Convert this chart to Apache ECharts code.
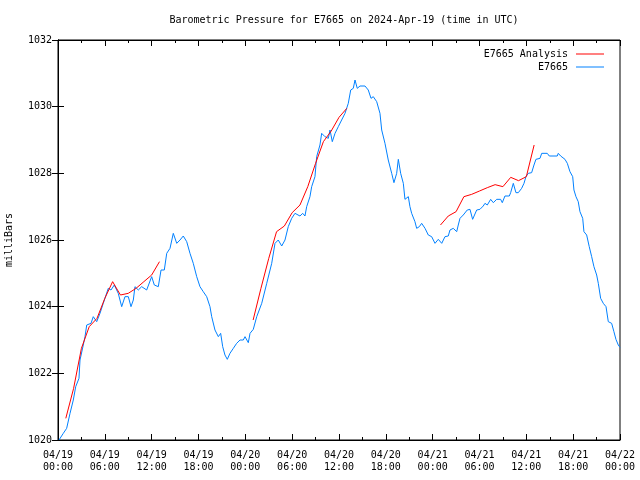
<!DOCTYPE html>
<html>
<head>
<meta charset="utf-8">
<script src="https://cdn.jsdelivr.net/npm/echarts@6/dist/echarts.min.js"></script>
<style>
html,body{margin:0;padding:0;background:#fff;}
#chart{width:640px;height:480px;}
</style>
</head>
<body>
<div id="chart"></div>
<script>
// hours since 2024-04-19 00:00 UTC
var xTickHours = [0, 6, 12, 18, 24, 30, 36, 42, 48, 54, 60, 66, 72];
var yTicks = [1020, 1022, 1024, 1026, 1028, 1030, 1032];

// Observed series E7665: [hour, pressure]
var obsE7665 = [
[0.13,1020.0],[0.68,1020.2],[1.11,1020.35],[1.54,1020.8],[1.96,1021.2],[2.27,1021.6],[2.69,1021.85],[2.82,1022.4],
[3.24,1022.85],[3.46,1023.1],[3.68,1023.45],[4.23,1023.5],[4.52,1023.7],[4.96,1023.55],[5.38,1023.8],[5.80,1024.1],
[6.44,1024.55],[6.79,1024.5],[7.21,1024.65],[7.72,1024.4],[8.16,1024.0],[8.58,1024.3],[9.01,1024.3],[9.35,1024.0],
[9.65,1024.2],[9.86,1024.6],[10.29,1024.5],[10.72,1024.6],[11.36,1024.5],[12.0,1024.9],[12.34,1024.65],[12.85,1024.6],
[13.2,1025.1],[13.62,1025.1],[13.93,1025.6],[14.35,1025.75],[14.77,1026.2],[15.21,1025.9],[15.63,1026.0],[16.05,1026.12],
[16.49,1025.95],[16.91,1025.6],[17.33,1025.3],[17.77,1024.9],[18.19,1024.6],[18.61,1024.45],[19.05,1024.3],[19.47,1024.0],
[19.69,1023.7],[20.11,1023.3],[20.54,1023.1],[20.84,1023.2],[21.10,1022.8],[21.39,1022.55],[21.69,1022.42],[22.03,1022.6],
[22.46,1022.75],[22.89,1022.9],[23.32,1023.0],[23.74,1023.0],[23.96,1023.1],[24.38,1022.92],[24.60,1023.2],[25.02,1023.32],
[25.46,1023.7],[26.10,1024.1],[26.74,1024.7],[27.38,1025.3],[27.80,1025.9],[28.22,1026.0],[28.66,1025.82],[29.08,1026.0],
[29.50,1026.4],[29.94,1026.65],[30.36,1026.8],[31.00,1026.72],[31.35,1026.8],[31.64,1026.72],[31.86,1027.0],[32.28,1027.3],
[32.50,1027.6],[32.92,1027.9],[33.14,1028.5],[33.56,1028.85],[33.78,1029.2],[34.20,1029.1],[34.63,1029.05],[34.85,1029.3],
[35.14,1028.95],[35.49,1029.2],[35.91,1029.4],[36.34,1029.6],[36.77,1029.8],[37.19,1030.1],[37.50,1030.5],[37.83,1030.55],
[38.05,1030.8],[38.34,1030.55],[38.69,1030.62],[39.33,1030.62],[39.75,1030.5],[40.10,1030.25],[40.39,1030.3],[40.83,1030.15],
[41.25,1029.8],[41.47,1029.3],[41.89,1028.9],[42.31,1028.4],[42.75,1028.0],[43.04,1027.72],[43.39,1028.0],[43.60,1028.42],
[43.90,1028.0],[44.24,1027.7],[44.45,1027.22],[44.88,1027.3],[45.09,1027.0],[45.31,1026.8],[45.73,1026.55],[45.95,1026.35],
[46.29,1026.4],[46.59,1026.5],[47.02,1026.35],[47.44,1026.15],[47.87,1026.1],[48.30,1025.9],[48.72,1026.02],[49.16,1025.9],
[49.58,1026.1],[50.00,1026.12],[50.22,1026.3],[50.64,1026.35],[51.08,1026.25],[51.28,1026.45],[51.50,1026.65],[51.92,1026.75],
[52.43,1026.9],[52.78,1026.92],[53.12,1026.62],[53.64,1026.9],[54.06,1026.92],[54.48,1027.02],[54.70,1027.1],[55.0,1027.05],
[55.43,1027.22],[55.77,1027.12],[56.20,1027.22],[56.71,1027.22],[56.92,1027.12],[57.26,1027.32],[57.82,1027.32],[57.99,1027.42],
[58.33,1027.7],[58.67,1027.42],[58.97,1027.42],[59.40,1027.55],[59.70,1027.7],[59.95,1027.9],[60.25,1028.0],[60.68,1028.02],
[60.98,1028.25],[61.23,1028.42],[61.75,1028.45],[61.97,1028.6],[62.68,1028.6],[62.94,1028.52],[63.96,1028.52],[64.09,1028.6],
[64.40,1028.52],[64.95,1028.42],[65.25,1028.3],[65.59,1028.05],[65.94,1027.9],[66.10,1027.5],[66.36,1027.3],[66.65,1027.15],
[66.87,1026.85],[67.22,1026.65],[67.38,1026.25],[67.73,1026.15],[68.06,1025.8],[68.37,1025.5],[68.66,1025.2],[69.01,1024.95],
[69.22,1024.7],[69.52,1024.25],[69.86,1024.1],[70.21,1024.0],[70.50,1023.55],[70.93,1023.5],[71.22,1023.25],[71.48,1023.02],
[71.78,1022.85],[72.0,1022.78]
];

// Analysis runs (hourly), three 12-hour segments
var anaStart1 = 1,  anaValues1 = [1020.65,1021.55,1022.75,1023.4,1023.65,1024.25,1024.75,1024.35,1024.4,1024.55,1024.75,1024.95,1025.35];
var anaStart2 = 25, anaValues2 = [1023.6,1024.55,1025.45,1026.25,1026.42,1026.82,1027.05,1027.6,1028.3,1028.95,1029.27,1029.68,1029.95];
var anaStart3 = 49, anaValues3 = [1026.45,1026.72,1026.85,1027.3,1027.37,1027.47,1027.57,1027.66,1027.6,1027.88,1027.78,1027.9,1028.85];

var analysisData = [];
[[anaStart1, anaValues1],[anaStart2, anaValues2],[anaStart3, anaValues3]].forEach(function(seg, si){
  if (si > 0) analysisData.push([seg[0] - 1, '-']);
  seg[1].forEach(function(v, i){ analysisData.push([seg[0] + i, v]); });
});

var FONT = "'DejaVu Sans Mono', 'Liberation Mono', monospace";

function fmtX(h){
  var day = 19 + Math.floor(h / 24);
  var hh = h % 24;
  return '04/' + day + '\n' + (hh < 10 ? '0' : '') + hh + ':00';
}

var chart = echarts.init(document.getElementById('chart'), null, {renderer:'canvas'});
var axisCommon = {
  axisLine:{show:true, lineStyle:{color:'#000', width:1}},
  splitLine:{show:false}
};
chart.setOption({
  animation:false,
  backgroundColor:'#fff',
  title:{
    text:'Barometric Pressure for E7665 on 2024-Apr-19 (time in UTC)',
    left:339, top:10, textAlign:'center',
    textStyle:{fontFamily:FONT, fontSize:10, fontWeight:'normal', color:'#000'}
  },
  legend:{
    orient:'vertical', right:31, top:43, align:'right', itemGap:1,
    itemWidth:28, itemHeight:1,
    textStyle:{fontFamily:FONT, fontSize:10, color:'#000', lineHeight:12, padding:[0,3,0,0]},
    data:[{name:'E7665 Analysis', icon:'rect'},{name:'E7665', icon:'rect'}]
  },
  grid:{left:58, right:20, top:40, bottom:40, show:true, borderColor:'#000', borderWidth:1,
        containLabel:false, outerBoundsMode:'none'},
  xAxis:[
    Object.assign({}, axisCommon, {
      type:'value', min:xTickHours[0], max:xTickHours[xTickHours.length-1], interval:6, position:'bottom',
      axisTick:{show:true, inside:true, length:6, lineStyle:{color:'#000'}},
      minorTick:{show:true, splitNumber:2, length:3, lineStyle:{color:'#000'}},
      axisLabel:{formatter:fmtX, fontFamily:FONT, fontSize:10, color:'#000', lineHeight:12, margin:9,
        showMinLabel:true, showMaxLabel:true, hideOverlap:false}
    }),
    Object.assign({}, axisCommon, {
      type:'value', min:xTickHours[0], max:xTickHours[xTickHours.length-1], interval:6, position:'top',
      axisTick:{show:true, inside:true, length:6, lineStyle:{color:'#000'}},
      minorTick:{show:true, splitNumber:2, length:3, lineStyle:{color:'#000'}},
      axisLabel:{show:false}
    })
  ],
  yAxis:[
    Object.assign({}, axisCommon, {
      type:'value', min:yTicks[0], max:yTicks[yTicks.length-1], interval:2, position:'left',
      name:'milliBars', nameLocation:'middle', nameGap:44, nameRotate:90,
      nameTextStyle:{fontFamily:FONT, fontSize:10, color:'#000'},
      axisTick:{show:true, inside:true, length:6, lineStyle:{color:'#000'}},
      axisLabel:{fontFamily:FONT, fontSize:10, color:'#000', margin:6,
        formatter:function(v){ return String(v); }}
    }),
    Object.assign({}, axisCommon, {
      type:'value', min:yTicks[0], max:yTicks[yTicks.length-1], interval:2, position:'right',
      axisTick:{show:true, inside:true, length:6, lineStyle:{color:'#000'}},
      axisLabel:{show:false}
    })
  ],
  series:[
    {name:'E7665 Analysis', type:'line', data:analysisData, showSymbol:false, symbol:'none',
     connectNulls:false, lineStyle:{color:'#ff0000', width:1}, itemStyle:{color:'#ff0000'}, z:3},
    {name:'E7665', type:'line', data:obsE7665, showSymbol:false, symbol:'none',
     lineStyle:{color:'#0080ff', width:1}, itemStyle:{color:'#0080ff'}, z:2}
  ]
});
</script>
</body>
</html>
